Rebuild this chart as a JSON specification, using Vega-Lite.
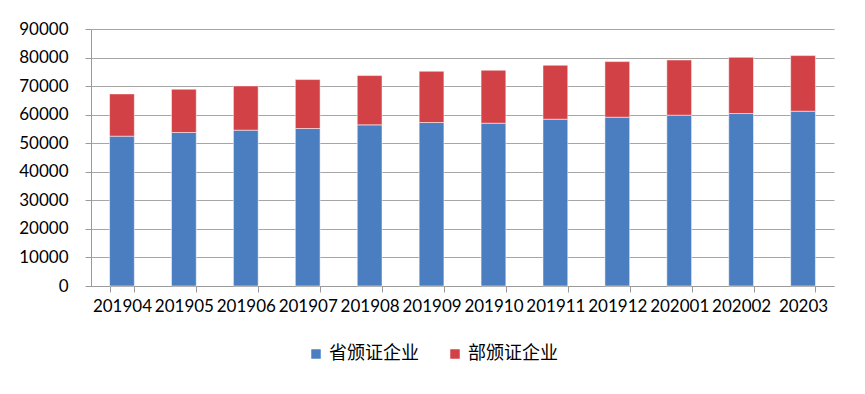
{
  "$schema": "https://vega.github.io/schema/vega-lite/v6.json",
  "autosize": {"type": "none"},
  "padding": {"left": 91, "top": 29, "right": 31, "bottom": 108},
  "width": 743,
  "height": 257,
  "background": "white",
  "data": {
    "values": [
      {"month": "201904", "series": "省颁证企业", "ord": 1, "value": 52470},
      {"month": "201904", "series": "部颁证企业", "ord": 2, "value": 14800},
      {"month": "201905", "series": "省颁证企业", "ord": 1, "value": 53760},
      {"month": "201905", "series": "部颁证企业", "ord": 2, "value": 15150},
      {"month": "201906", "series": "省颁证企业", "ord": 1, "value": 54570},
      {"month": "201906", "series": "部颁证企业", "ord": 2, "value": 15500},
      {"month": "201907", "series": "省颁证企业", "ord": 1, "value": 55150},
      {"month": "201907", "series": "部颁证企业", "ord": 2, "value": 17140},
      {"month": "201908", "series": "省颁证企业", "ord": 1, "value": 56430},
      {"month": "201908", "series": "部颁证企业", "ord": 2, "value": 17260},
      {"month": "201909", "series": "省颁证企业", "ord": 1, "value": 57250},
      {"month": "201909", "series": "部颁证企业", "ord": 2, "value": 17950},
      {"month": "201910", "series": "省颁证企业", "ord": 1, "value": 57010},
      {"month": "201910", "series": "部颁证企业", "ord": 2, "value": 18540},
      {"month": "201911", "series": "省颁证企业", "ord": 1, "value": 58410},
      {"month": "201911", "series": "部颁证企业", "ord": 2, "value": 18890},
      {"month": "201912", "series": "省颁证企业", "ord": 1, "value": 59110},
      {"month": "201912", "series": "部颁证企业", "ord": 2, "value": 19480},
      {"month": "202001", "series": "省颁证企业", "ord": 1, "value": 59810},
      {"month": "202001", "series": "部颁证企业", "ord": 2, "value": 19350},
      {"month": "202002", "series": "省颁证企业", "ord": 1, "value": 60400},
      {"month": "202002", "series": "部颁证企业", "ord": 2, "value": 19700},
      {"month": "20203", "series": "省颁证企业", "ord": 1, "value": 61210},
      {"month": "20203", "series": "部颁证企业", "ord": 2, "value": 19480}
    ]
  },
  "mark": {"type": "bar", "stroke": "#ffffff", "strokeOpacity": 0.5, "strokeWidth": 1},
  "encoding": {
    "x": {
      "field": "month",
      "type": "nominal",
      "sort": null,
      "scale": {"paddingInner": 0.6, "paddingOuter": 0.3},
      "axis": {
        "title": null,
        "labelAngle": 0,
        "labelFont": "Lato",
        "labelFontSize": 17,
        "labelColor": "#000000",
        "labelPadding": 6,
        "tickBand": "extent",
        "tickSize": 6,
        "tickColor": "#9a9a9a",
        "domainColor": "#9a9a9a",
        "grid": false
      }
    },
    "y": {
      "field": "value",
      "type": "quantitative",
      "stack": "zero",
      "scale": {"domain": [0, 90000], "nice": false},
      "axis": {
        "title": null,
        "values": [0, 10000, 20000, 30000, 40000, 50000, 60000, 70000, 80000, 90000],
        "format": "d",
        "labelFont": "Lato",
        "labelFontSize": 17,
        "labelColor": "#000000",
        "labelPadding": 17,
        "tickSize": 6,
        "tickColor": "#9a9a9a",
        "domainColor": "#9a9a9a",
        "gridColor": "#a6a6a6",
        "gridWidth": 1.2
      }
    },
    "color": {
      "field": "series",
      "type": "nominal",
      "sort": ["省颁证企业", "部颁证企业"],
      "scale": {"domain": ["省颁证企业", "部颁证企业"], "range": ["#4a7ec1", "#d24145"]},
      "legend": {
        "title": null,
        "orient": "none",
        "legendX": 216,
        "legendY": 316,
        "direction": "horizontal",
        "symbolType": "square",
        "symbolSize": 90,
        "symbolStrokeWidth": 0,
        "labelFont": "Noto Sans CJK SC",
        "labelFontSize": 18,
        "labelColor": "#000000",
        "columnPadding": 27
      }
    },
    "order": {"field": "ord", "type": "quantitative"}
  },
  "config": {"view": {"stroke": null}}
}
